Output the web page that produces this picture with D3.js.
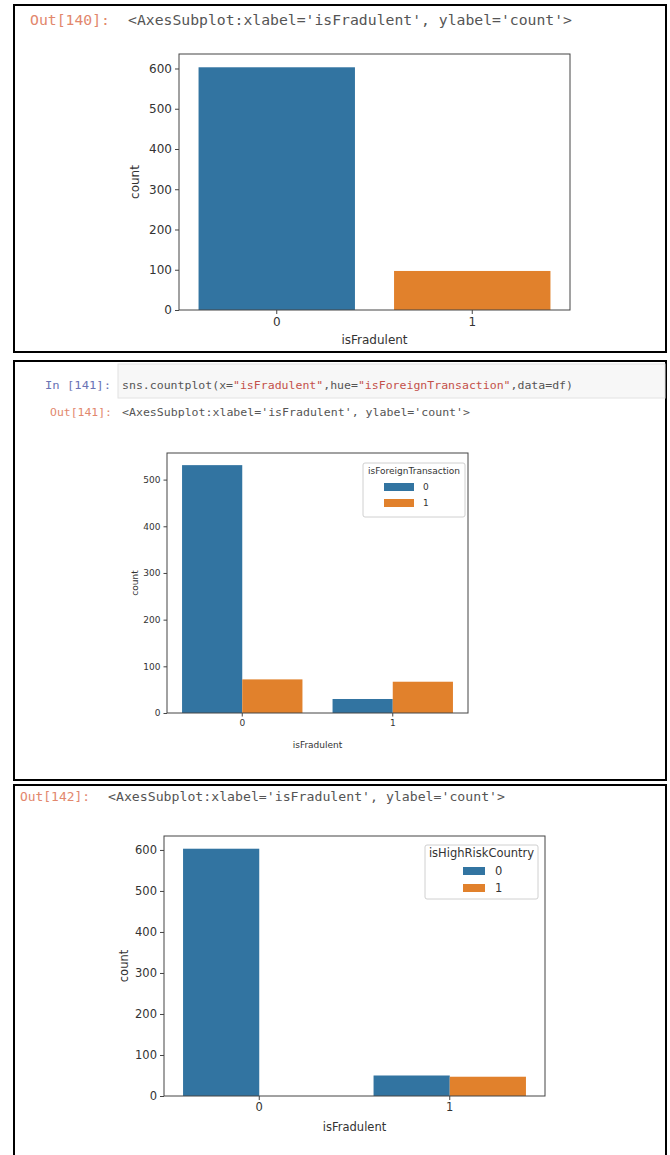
<!DOCTYPE html>
<html>
<head>
<meta charset="utf-8">
<script src="https://cdn.jsdelivr.net/npm/d3@7"></script>
<style>
  body { margin: 0; background: #fff; }
  svg text { font-family: "DejaVu Sans", sans-serif; fill: #333; }
  .mono { font-family: "DejaVu Sans Mono", monospace; }
</style>
</head>
<body>
<div id="chart"></div>
<script>
// x categories and hue levels
var fraudLevels = ["0", "1"];
var hueLevels = ["0", "1"];

// Out[140]: sns.countplot(x="isFradulent")
var fraudCounts = [603, 97];

// Out[141]: hue = isForeignTransaction (0 / 1)
var foreignNo = [531, 30];
var foreignYes = [72, 67];

// Out[142]: hue = isHighRiskCountry (0 / 1)
var highRiskNo = [603, 50];
var highRiskYes = [0, 47];

var ticks600 = [0, 100, 200, 300, 400, 500, 600];
var ticks500 = [0, 100, 200, 300, 400, 500];

var blue = "#3274a1", orange = "#e1812c";

var width = 670, height = 1155;

var svg = d3.select("#chart")
    .append("svg")
    .attr("width", width)
    .attr("height", height);

svg.append("rect").attr("width", width).attr("height", height).attr("fill", "#fff");

// notebook cell frames
svg.append("rect").attr("x", 14).attr("y", 5).attr("width", 652).attr("height", 347)
    .attr("fill", "none").attr("stroke", "#000").attr("stroke-width", 2);
svg.append("rect").attr("x", 14).attr("y", 361).attr("width", 652).attr("height", 419)
    .attr("fill", "none").attr("stroke", "#000").attr("stroke-width", 2);
svg.append("rect").attr("x", 14).attr("y", 785).attr("width", 652).attr("height", 380)
    .attr("fill", "none").attr("stroke", "#000").attr("stroke-width", 2);

// input area of cell 141
svg.append("rect").attr("x", 118).attr("y", 364).attr("width", 547).attr("height", 34)
    .attr("fill", "#f7f7f7").attr("stroke", "#e2e2e2");

// prompt + monospace text, stretched into the measured widths
function codeLine(y, prompt, promptColor, promptX, promptW, startX, targetWidth, parts) {
    var n = d3.sum(parts, function (p) { return p[0].length; });
    var fs = 0.9 * targetWidth / (n * 0.602);
    svg.append("text").attr("class", "mono")
        .attr("x", promptX).attr("y", y)
        .attr("textLength", promptW).attr("lengthAdjust", "spacingAndGlyphs")
        .style("font-size", fs + "px")
        .style("fill", promptColor)
        .text(prompt);
    var t = svg.append("text").attr("class", "mono")
        .attr("x", startX).attr("y", y)
        .attr("textLength", targetWidth).attr("lengthAdjust", "spacingAndGlyphs")
        .style("font-size", fs + "px");
    parts.forEach(function (p) {
        t.append("tspan").style("fill", p[1]).text(p[0]);
    });
}

var outRed = "#e2876d", inBlue = "#6a73b5", txt = "#555";
var axesRepr = "<AxesSubplot:xlabel='isFradulent', ylabel='count'>";

codeLine(25, "Out[140]:", outRed, 30, 80, 128, 444, [[axesRepr, txt]]);
codeLine(389, "In [141]:", inBlue, 45, 66, 122, 451, [
    ["sns.countplot(x=", txt], ["\"isFradulent\"", "#c4514a"], [",hue=", txt],
    ["\"isForeignTransaction\"", "#c4514a"], [",data=df)", txt]
]);
codeLine(416, "Out[141]:", outRed, 50, 62, 122, 348, [[axesRepr, txt]]);
codeLine(801, "Out[142]:", outRed, 20, 70, 108, 397, [[axesRepr, txt]]);

function drawChart(o) {
    var g = svg.append("g");
    var x0 = d3.scaleBand().domain(fraudLevels)
        .range([o.left, o.right]).paddingInner(0.2).paddingOuter(0.1);
    var y = d3.scaleLinear().domain([0, o.ymax]).range([o.bottom, o.top]);

    if (o.series.length === 1) {
        g.selectAll(".bar").data(o.series[0]).enter().append("rect")
            .attr("x", function (d, i) { return x0(fraudLevels[i]); })
            .attr("width", x0.bandwidth())
            .attr("y", function (d) { return y(d); })
            .attr("height", function (d) { return y(0) - y(d); })
            .attr("fill", function (d, i) { return o.colors[i]; });
    } else {
        var x1 = d3.scaleBand().domain(hueLevels).range([0, x0.bandwidth()]);
        o.series.forEach(function (vals, h) {
            g.selectAll(".bar" + h).data(vals).enter().append("rect")
                .attr("x", function (d, i) { return x0(fraudLevels[i]) + x1(hueLevels[h]); })
                .attr("width", x1.bandwidth())
                .attr("y", function (d) { return y(d); })
                .attr("height", function (d) { return y(0) - y(d); })
                .attr("fill", o.colors[h]);
        });
    }

    var yAxis = g.append("g").attr("transform", "translate(" + o.left + ",0)")
        .call(d3.axisLeft(y).tickValues(o.ticks).tickSize(o.tickLen).tickPadding(3))
    var xAxis = g.append("g").attr("transform", "translate(0," + o.bottom + ")")
        .call(d3.axisBottom(x0).tickSize(o.tickLen).tickPadding(3));
    [yAxis, xAxis].forEach(function (a) {
        a.select(".domain").remove();
        a.attr("font-family", null).attr("font-size", null);
        a.selectAll("text").style("font-size", o.font + "px").attr("fill", "#333");
        a.selectAll("line").attr("stroke", "#444");
    });

    g.append("rect")
        .attr("x", o.left).attr("y", o.top)
        .attr("width", o.right - o.left).attr("height", o.bottom - o.top)
        .attr("fill", "none").attr("stroke", "#444").attr("stroke-width", 1);

    g.append("text")
        .attr("x", (o.left + o.right) / 2).attr("y", o.xlabelY)
        .attr("text-anchor", "middle")
        .style("font-size", o.font + "px")
        .text("isFradulent");
    g.append("text")
        .attr("transform", "translate(" + o.ylabelX + "," + (o.top + o.bottom) / 2 + ") rotate(-90)")
        .attr("text-anchor", "middle")
        .attr("dy", "0.35em")
        .style("font-size", o.font + "px")
        .text("count");

    if (o.legend) {
        var L = o.legend;
        var lg = g.append("g");
        lg.append("rect")
            .attr("x", L.x).attr("y", L.y).attr("width", L.w).attr("height", L.h)
            .attr("rx", 2).attr("fill", "#fff").attr("fill-opacity", 0.8)
            .attr("stroke", "#d0d0d0");
        lg.append("text")
            .attr("x", L.x + L.w / 2).attr("y", L.titleY)
            .attr("text-anchor", "middle")
            .style("font-size", o.font + "px")
            .text(L.title);
        hueLevels.forEach(function (h, i) {
            lg.append("rect")
                .attr("x", L.patchX).attr("y", L.rows[i] - L.patchH / 2)
                .attr("width", L.patchW).attr("height", L.patchH)
                .attr("fill", o.colors[i]);
            lg.append("text")
                .attr("x", L.labelX).attr("y", L.rows[i])
                .attr("dy", "0.35em")
                .style("font-size", o.font + "px")
                .text(h);
        });
    }
}

drawChart({
    left: 179, right: 570, top: 54, bottom: 310, ymax: 636,
    ticks: ticks600, font: 12, tickLen: 4, ylabelX: 135, xlabelY: 344,
    series: [fraudCounts], colors: [blue, orange]
});

drawChart({
    left: 167, right: 468, top: 453, bottom: 713, ymax: 557,
    ticks: ticks500, font: 9, tickLen: 3.5, ylabelX: 135, xlabelY: 748,
    series: [foreignNo, foreignYes], colors: [blue, orange],
    legend: { x: 363, y: 463, w: 102, h: 54, title: "isForeignTransaction", titleY: 474,
              rows: [487, 503], patchX: 384, patchW: 30, patchH: 8, labelX: 423 }
});

drawChart({
    left: 164, right: 545, top: 836, bottom: 1096, ymax: 634,
    ticks: ticks600, font: 11.5, tickLen: 4, ylabelX: 124, xlabelY: 1131,
    series: [highRiskNo, highRiskYes], colors: [blue, orange],
    legend: { x: 425, y: 845, w: 113, h: 54, title: "isHighRiskCountry", titleY: 857,
              rows: [871, 888], patchX: 463, patchW: 22, patchH: 8, labelX: 495 }
});
</script>
</body>
</html>
